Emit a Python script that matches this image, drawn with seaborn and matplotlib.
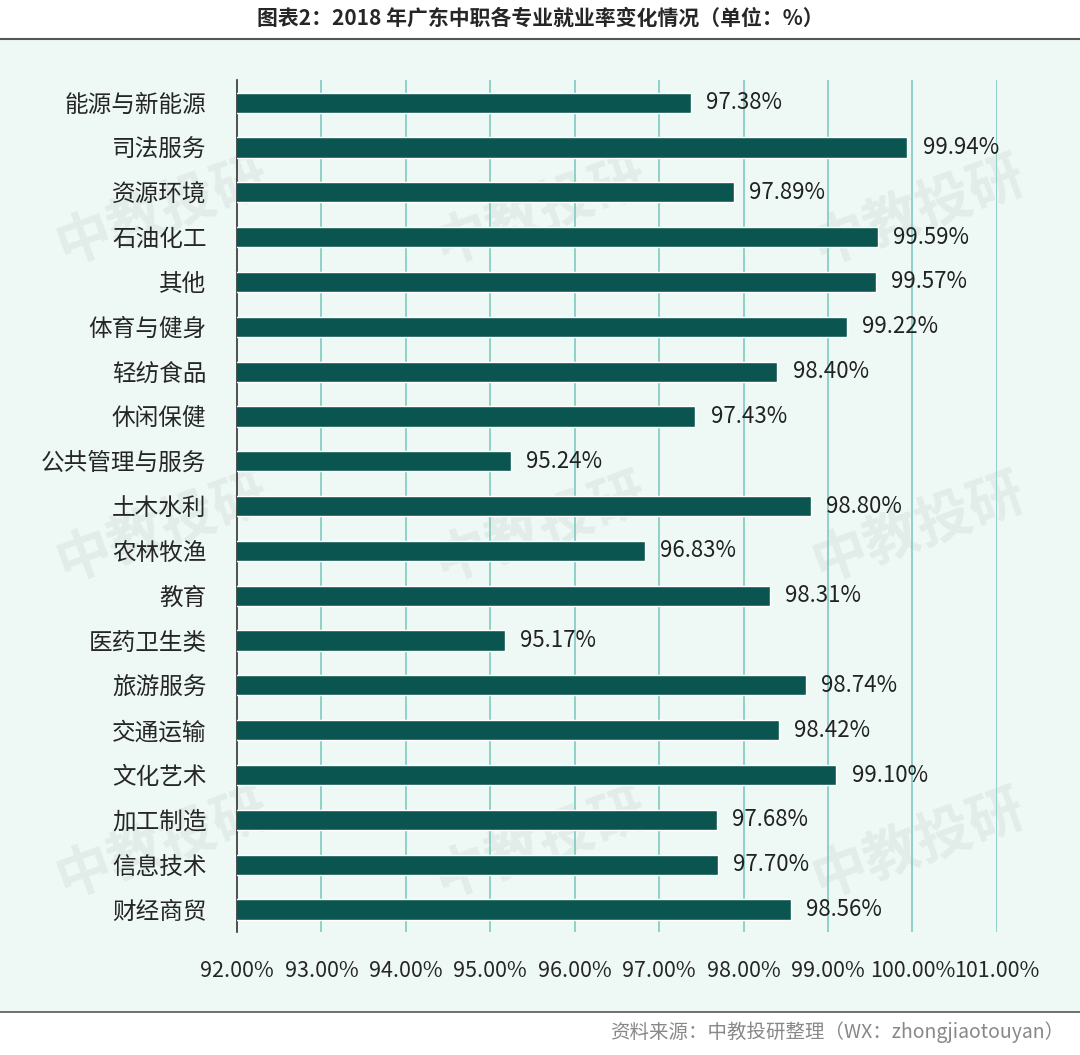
import matplotlib.pyplot as plt
import matplotlib.patches as mpatches
import seaborn as sns
import pandas as pd

sns.set_theme(style="white")
plt.rcParams['font.family'] = ['Noto Sans CJK SC', 'DejaVu Sans']

categories = ['能源与新能源', '司法服务', '资源环境', '石油化工', '其他', '体育与健身', '轻纺食品',
              '休闲保健', '公共管理与服务', '土木水利', '农林牧渔', '教育', '医药卫生类', '旅游服务',
              '交通运输', '文化艺术', '加工制造', '信息技术', '财经商贸']
rates = [97.38, 99.94, 97.89, 99.59, 99.57, 99.22, 98.40, 97.43, 95.24, 98.80, 96.83, 98.31,
         95.17, 98.74, 98.42, 99.10, 97.68, 97.70, 98.56]
ticks = [92, 93, 94, 95, 96, 97, 98, 99, 100, 101]

df = pd.DataFrame({'cat': categories, 'rate': rates})

fig = plt.figure(figsize=(10.8, 10.55), dpi=100)
bg = '#eef9f5'
fig.patches.append(mpatches.Rectangle((0, 1 - 1010 / 1055), 1, (1010 - 40) / 1055,
                                      transform=fig.transFigure, color=bg, zorder=-5))
fig.add_artist(plt.Line2D([0, 1], [1 - 39 / 1055] * 2, color='#555555', lw=1.5))
fig.add_artist(plt.Line2D([0, 1], [1 - 1012 / 1055] * 2, color='#555555', lw=1.2))
fig.text(0.5, 1 - 18 / 1055, '图表2：2018 年广东中职各专业就业率变化情况（单位：%）',
         ha='center', va='center', fontsize=15, fontweight='bold')
fig.text(0.985, 1 - 1032 / 1055, '资料来源：中教投研整理（WX：zhongjiaotouyan）',
         ha='right', va='center', fontsize=14, color='#888888')

for x, y in [(0.15, 0.8), (0.5, 0.8), (0.85, 0.8), (0.15, 0.5), (0.5, 0.5), (0.85, 0.5),
             (0.15, 0.2), (0.5, 0.2), (0.85, 0.2)]:
    fig.text(x, y, '中教投研', fontsize=40, color='#000000', alpha=0.05, rotation=20,
             fontweight='bold', ha='center', va='center', zorder=-4)

ax = fig.add_axes([0.2194, 0.1166, 0.7036, 0.8074])
ax.set_facecolor('none')
sns.barplot(data=df, x='rate', y='cat', color='#0b5550', width=0.45, saturation=1, ax=ax, zorder=3)
ax.set_xlim(92, 101)
ax.set_xticks(ticks)
ax.set_xticklabels([f'{t:.2f}%' for t in ticks], fontsize=15.5)
ax.tick_params(axis='x', pad=20, length=0)
ax.tick_params(axis='y', labelsize=17, length=0, pad=22)
ax.set_xlabel('')
ax.set_ylabel('')
for t in ticks[1:]:
    ax.axvline(t, color='#7fc9c0', lw=1.2, zorder=1)
for s in ['top', 'right', 'bottom']:
    ax.spines[s].set_visible(False)
ax.spines['left'].set_color('#333333')
ax.spines['left'].set_linewidth(1.2)
for i, v in enumerate(rates):
    ax.text(v + 0.18, i, f'{v:.2f}%', va='center', ha='left', fontsize=16, color='#222222', zorder=4)

fig.savefig('out.png', dpi=100)
